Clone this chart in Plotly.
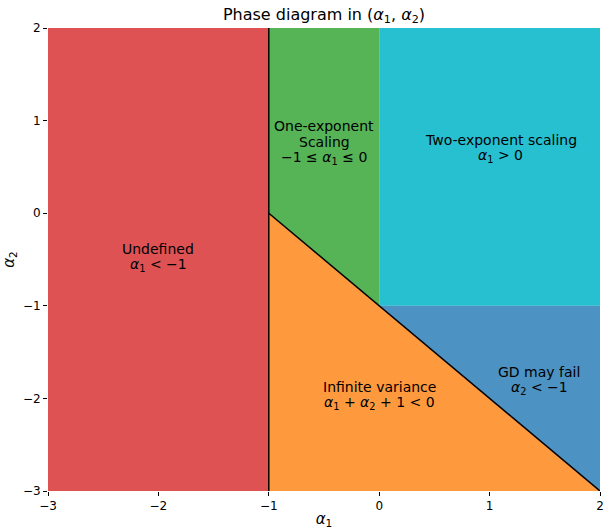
import plotly.graph_objects as go

# Axis ranges / ticks
x_range = [-3, 2]
y_range = [-3, 2]
x_ticks = [-3, -2, -1, 0, 1, 2]
y_ticks = [-3, -2, -1, 0, 1, 2]

# Region polygons (alpha1, alpha2 vertices)
undef_x = [-3, -1, -1, -3]
undef_y = [-3, -3, 2, 2]
one_x = [-1, 0, 0, -1]
one_y = [0, -1, 2, 2]
two_x = [0, 2, 2, 0]
two_y = [-1, -1, 2, 2]
gd_x = [0, 2, 2]
gd_y = [-1, -1, -3]
inf_x = [-1, 2, -1]
inf_y = [0, -3, -3]

# Boundary lines
vline_x = [-1, -1]
vline_y = [-3, 2]
diag_x = [-1, 2]
diag_y = [0, -3]

colors = {
    "undef": "rgba(214,39,40,0.8)",
    "one": "rgba(44,160,44,0.8)",
    "two": "rgb(38,192,208)",
    "gd": "rgba(31,119,180,0.8)",
    "inf": "rgba(255,127,14,0.8)",
}

# Labels
label_x = [-2, -0.5, 1.1, 0, 1.45]
label_y = [-0.47, 0.77, 0.7, -1.96, -1.8]
label_lines = [
    ["Undefined", "<i>α</i><sub>1</sub> < −1"],
    ["One-exponent", "Scaling", "−1 ≤ <i>α</i><sub>1</sub> ≤ 0"],
    ["Two-exponent scaling", "<i>α</i><sub>1</sub> > 0"],
    ["Infinite variance", "<i>α</i><sub>1</sub> + <i>α</i><sub>2</sub> + 1 < 0"],
    ["GD may fail", "<i>α</i><sub>2</sub> < −1"],
]

fig = go.Figure()
for xs, ys, key in [(undef_x, undef_y, "undef"), (one_x, one_y, "one"),
                    (two_x, two_y, "two"), (gd_x, gd_y, "gd"), (inf_x, inf_y, "inf")]:
    fig.add_trace(go.Scatter(x=xs + [xs[0]], y=ys + [ys[0]], fill="toself",
                             fillcolor=colors[key], mode="none",
                             hoverinfo="skip", showlegend=False))
for xs, ys in [(vline_x, vline_y), (diag_x, diag_y)]:
    fig.add_trace(go.Scatter(x=xs, y=ys, mode="lines",
                             line=dict(color="black", width=1.5),
                             hoverinfo="skip", showlegend=False))

line_gap = 16
for x, y, lines in zip(label_x, label_y, label_lines):
    n = len(lines)
    for i, t in enumerate(lines):
        fig.add_annotation(x=x, y=y, text=t, showarrow=False,
                           yshift=((n - 1) / 2 - i) * line_gap,
                           font=dict(size=14, color="black", family="DejaVu Sans"),
                           align="center", xanchor="center", yanchor="middle")

fig.update_layout(
    width=607, height=529,
    margin=dict(l=48, r=7, t=28, b=38, autoexpand=False),
    paper_bgcolor="white", plot_bgcolor="white",
    font=dict(family="DejaVu Sans", color="black", size=12),
    title=dict(text="Phase diagram in (<i>α</i><sub>1</sub>, <i>α</i><sub>2</sub>)",
               x=(48 + 600) / 2 / 607, xanchor="center", y=1 - 14 / 529, yanchor="middle",
               font=dict(size=16, family="DejaVu Sans", color="black")),
    xaxis=dict(range=x_range, tickvals=x_ticks, ticks="outside", ticklen=4,
               tickcolor="black", showgrid=False, zeroline=False, showline=False,
               automargin=False,
               title=dict(text="<i>α</i><sub>1</sub>", standoff=4,
                          font=dict(size=15)),
               tickfont=dict(size=12)),
    yaxis=dict(range=y_range, tickvals=y_ticks, ticks="outside", ticklen=4,
               tickcolor="black", showgrid=False, zeroline=False, showline=False,
               automargin=False,
               title=dict(text="<i>α</i><sub>2</sub>", standoff=8,
                          font=dict(size=15)),
               tickfont=dict(size=12)),
)

fig.write_html("out.html")
